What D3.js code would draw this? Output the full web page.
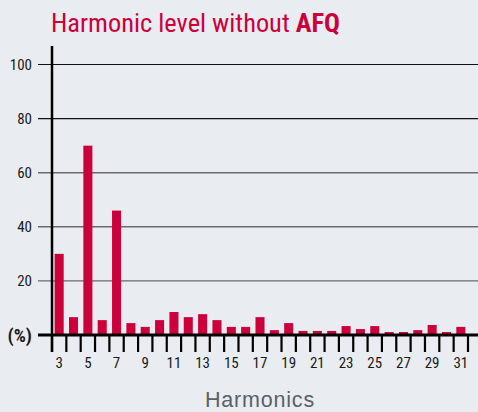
<!DOCTYPE html>
<html><head><meta charset="utf-8">
<script src="https://cdn.jsdelivr.net/npm/d3@7"></script>
<style>
html,body{margin:0;padding:0;background:#e9ecf0;}
svg{display:block;}
.narrow{font-family:'Liberation Sans Narrow','Roboto Condensed','DejaVu Sans Condensed',sans-serif;font-stretch:condensed;}
</style></head>
<body>
<svg id="chart" width="478" height="412"></svg>
<script>
const harmonics = [3,4,5,6,7,8,9,10,11,12,13,14,15,16,17,18,19,20,21,22,23,24,25,26,27,28,29,30,31];
const levels = [30,6.6,70,5.5,46,4.4,3,5.5,8.5,6.6,7.7,5.5,3,3,6.6,1.8,4.4,1.5,1.5,1.5,3.3,2.2,3.3,1.1,1.1,1.8,3.7,1.1,3];
const yTicks = [20,40,60,80,100];
const xTickLabels = [3,5,7,9,11,13,15,17,19,21,23,25,27,29,31];
const titleText = "Harmonic level without ";
const titleBold = "AFQ";
const xTitle = "Harmonics";
const unitLabel = "(%)";

const red = "#cc003b";
const svg = d3.select("#chart");
svg.append("rect").attr("width",478).attr("height",412).attr("fill","#e9ecf0");

const x = d3.scaleBand().domain(harmonics).range([52,468]).paddingInner(0.37).paddingOuter(0.185);
const y = d3.scaleLinear().domain([0,100]).range([335,64.5]);

// gridlines
svg.append("g").selectAll("line").data(yTicks).join("line")
  .attr("x1",38).attr("x2",478)
  .attr("y1",d=>y(d)).attr("y2",d=>y(d))
  .attr("stroke",d=>d>=80?"#111":"#6a6a6a")
  .attr("stroke-width",d=>d>=80?1.2:1.4);

// y labels
svg.append("g").attr("class","narrow").selectAll("text").data(yTicks).join("text")
  .attr("x",32).attr("y",d=>y(d)).attr("dy","0.36em")
  .attr("text-anchor","end").attr("font-size",15).attr("fill","#1a1a1a")
  .text(d=>d);

svg.append("text").attr("class","narrow").attr("x",32).attr("y",y(0)).attr("dy","0.36em")
  .attr("text-anchor","end").attr("font-size",19).attr("font-weight","bold").attr("fill","#1a1a1a")
  .text(unitLabel);

// bars
svg.append("g").selectAll("rect").data(harmonics).join("rect")
  .attr("x",d=>x(d)).attr("width",x.bandwidth())
  .attr("y",(d,i)=>y(levels[i])).attr("height",(d,i)=>y(0)-y(levels[i]))
  .attr("fill",red);

// bottom ticks at band boundaries
const step = x.step();
const bounds = harmonics.map(d=>x(d)-step*0.185).concat([x(harmonics[harmonics.length-1])+x.bandwidth()+step*0.185]);
svg.append("g").selectAll("line").data(bounds).join("line")
  .attr("x1",d=>d).attr("x2",d=>d).attr("y1",335).attr("y2",352)
  .attr("stroke","#000").attr("stroke-width",2.2);

// baseline
svg.append("line").attr("x1",38).attr("x2",478).attr("y1",y(0)).attr("y2",y(0))
  .attr("stroke","#000").attr("stroke-width",3);
// y axis line
svg.append("line").attr("x1",52).attr("x2",52).attr("y1",46).attr("y2",352)
  .attr("stroke","#000").attr("stroke-width",2.5);

// x labels
svg.append("g").attr("class","narrow").selectAll("text").data(xTickLabels).join("text")
  .attr("x",d=>x(d)+x.bandwidth()/2).attr("y",368)
  .attr("text-anchor","middle").attr("font-size",15).attr("fill","#1a1a1a")
  .text(d=>d);

// x title
svg.append("text").attr("x",260).attr("y",407).attr("text-anchor","middle")
  .attr("font-family","'Liberation Sans',Arial,sans-serif").attr("font-size",21.5)
  .attr("letter-spacing",0.8).attr("fill","#5a6068")
  .text(xTitle);

// title
const t = svg.append("text").attr("class","narrow").attr("x",51).attr("y",32)
  .attr("font-size",26.4).attr("fill",red);
t.append("tspan").text(titleText);
t.append("tspan").attr("font-weight","bold").text(titleBold);
</script>
</body></html>
